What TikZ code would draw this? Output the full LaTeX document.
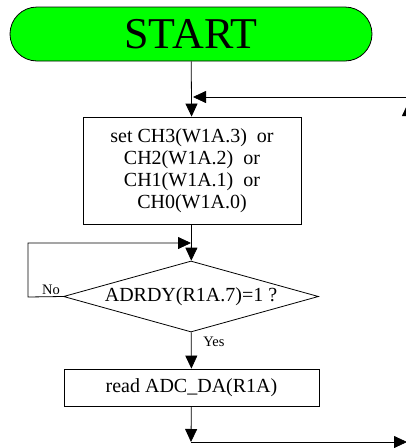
\documentclass[tikz,border=0pt]{standalone}
\usepackage{fontspec}
\setmainfont{Liberation Serif}
\usepackage{tikz}
\usetikzlibrary{arrows.meta, positioning, shapes.geometric}

\begin{document}
\begin{tikzpicture}[
    x=1pt, y=-1pt,
    ->, >={Triangle[length=13pt,width=12pt]},
    line width=0.8pt,
    terminal/.style={draw, -, rounded corners=27pt, fill={rgb,255:red,0;green,255;blue,0}, minimum width=362pt, minimum height=54pt, font=\fontsize{44}{48}\selectfont},
    process/.style={draw, -, align=center, font=\fontsize{20}{22}\selectfont},
    decision/.style={diamond, draw, -, aspect=3.59, inner sep=0pt, font=\fontsize{20}{22}\selectfont},
    branch label/.style={font=\fontsize{14.5}{16}\selectfont, inner sep=1pt}
]
\useasboundingbox (0,0) rectangle (406,448);

\node[terminal] (start) at (191,34) {START};
\node[process, minimum width=218pt, minimum height=107pt] (setch) at (192,170.5) {set CH3(W1A.3)\ \ or\\ CH2(W1A.2)\ \ or\\ CH1(W1A.1)\ \ or\\ CH0(W1A.0)};
\node[decision, minimum width=255pt, minimum height=71pt] (ready) at (191,296.5) {ADRDY(R1A.7)=1 ?};
\node[process, minimum width=255pt, minimum height=37pt] (readda) at (191.5,387.5) {read ADC\_DA(R1A)};

\coordinate (retin) at (408,97);
\coordinate (join) at (193,97);
\coordinate (loopl) at (28,297);
\coordinate (loopt) at (28,243);
\coordinate (merge) at (191,243);
\coordinate (down) at (191,442);
\coordinate (out) at (407,442);
\coordinate (upfrom) at (408,130);
\coordinate (upto) at (408,103);

\draw (start) -- (setch);
\draw (retin) -- (join);
\draw (setch) -- (ready);
\draw (ready.west) -- (loopl) -- (loopt) -- (merge);
\node[branch label, fill=white] (no) at (51,290) {No};
\draw (ready) -- (readda);
\node[branch label] (yes) at (214,342) {Yes};
\draw (readda) -- (down);
\draw (down) -- (out);
\draw (upfrom) -- (upto);
\end{tikzpicture}
\end{document}
